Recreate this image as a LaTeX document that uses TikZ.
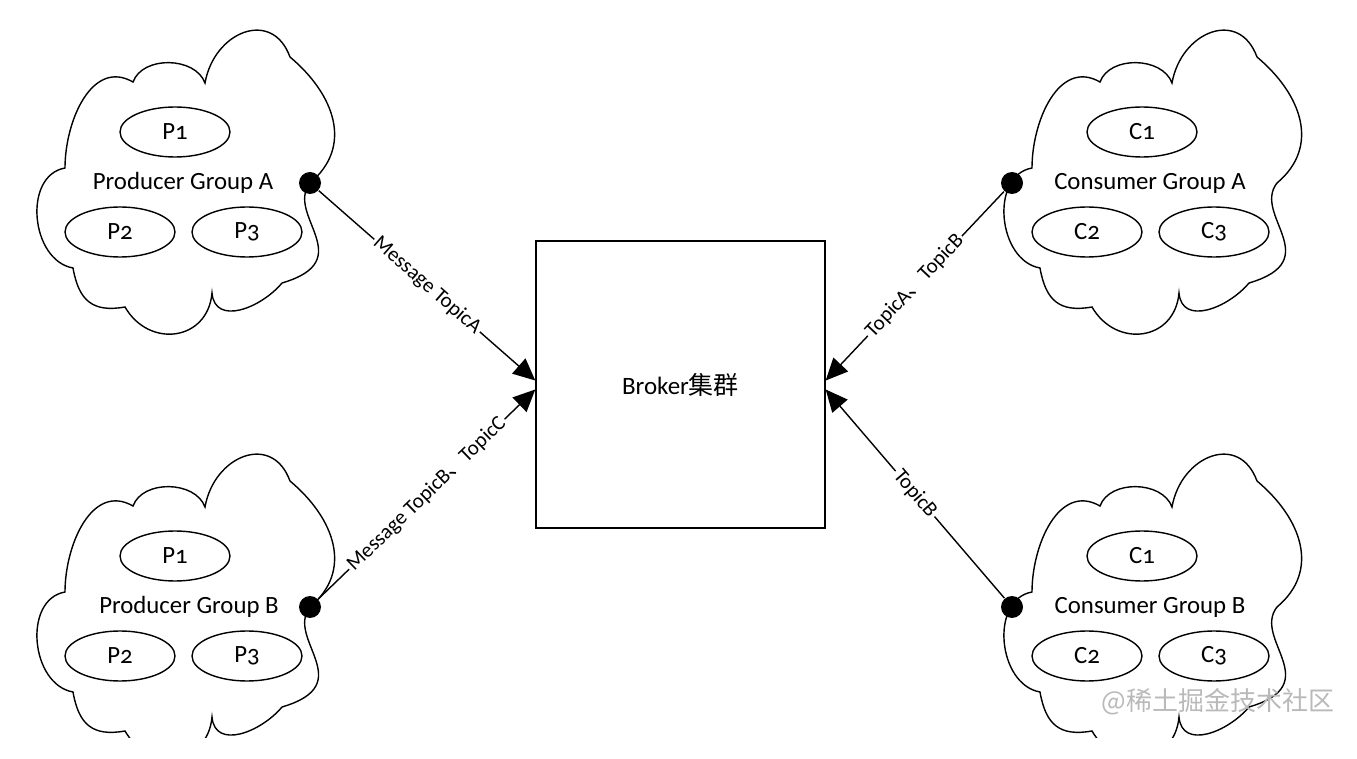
\documentclass[tikz,border=0pt]{standalone}
\usepackage{fontspec}
\setmainfont{Carlito}[Numbers=OldStyle]
\newfontfamily\cjk{Noto Sans CJK SC}
\usetikzlibrary{arrows.meta, shapes.geometric}

\begin{document}
\begin{tikzpicture}[
        x=0.5pt, y=0.5pt,
        line width=0.7pt,
        member/.style={draw, ellipse, minimum width=55pt, minimum height=25pt, inner sep=0pt, font=\fontsize{12.4}{14}\selectfont},
        group/.style={font=\fontsize{12.4}{14}\selectfont},
        broker/.style={draw, rectangle, minimum width=144.5pt, minimum height=143.5pt, font=\fontsize{12.5}{15}\selectfont},
        port/.style={circle, fill=black, minimum size=11pt, inner sep=0pt},
        topic/.style={sloped, midway, fill=white, inner sep=1pt, font=\fontsize{10.5}{12}\selectfont},
        watermark/.style={text=gray!55, font=\fontsize{13}{15}\selectfont\cjk},
        arrow/.style={-{Triangle[length=11pt, width=10pt]}},
        pics/cloud/.style={code={
            \draw (310,-183) to[out=40, in=-40, looseness=1.15] (290,-57)
                to[out=110, in=80, looseness=1.5] (205,-83)
                to[out=110, in=70] (133,-82)
                to[out=150, in=90, looseness=1.1] (65,-168)
                to[out=190, in=170, looseness=1.1] (73,-268)
                to[out=-80, in=-170, looseness=1.3] (125,-307)
                to[out=-60, in=-95, looseness=1.4] (212,-293)
                to[out=-85, in=-130, looseness=1.2] (282,-283)
                .. controls (360,-260) and (285,-215) .. (310,-183);
        }}
    ]
    \useasboundingbox (0,0) rectangle (1357,-759);

    % Clouds
    \begin{scope}
        \clip (0,0) rectangle (1357,-737);
        \pic at (0,0) {cloud};
        \pic at (0,-424) {cloud};
        \pic at (967,0) {cloud};
        \pic at (967,-424) {cloud};
    \end{scope}

    % Producer groups
    \node[group] (pga) at (183,-183) {Producer Group A};
    \node[member] (pa1) at (175,-132) {P1};
    \node[member] (pa2) at (120,-232) {P2};
    \node[member] (pa3) at (247,-232) {P3};
    \node[group] (pgb) at (189,-607) {Producer Group B};
    \node[member] (pb1) at (175,-556) {P1};
    \node[member] (pb2) at (120,-656) {P2};
    \node[member] (pb3) at (247,-656) {P3};

    % Consumer groups
    \node[group] (cga) at (1150,-183) {Consumer Group A};
    \node[member] (ca1) at (1142,-132) {C1};
    \node[member] (ca2) at (1087,-232) {C2};
    \node[member] (ca3) at (1214,-232) {C3};
    \node[group] (cgb) at (1150,-607) {Consumer Group B};
    \node[member] (cb1) at (1142,-556) {C1};
    \node[member] (cb2) at (1087,-656) {C2};
    \node[member] (cb3) at (1214,-656) {C3};

    % Broker
    \node[broker] (broker) at (680.5,-384.5) {Broker{\cjk 集群}};

    % Ports
    \node[port] (portpa) at (310,-183) {};
    \node[port] (portpb) at (310,-607) {};
    \node[port] (portca) at (1012,-183) {};
    \node[port] (portcb) at (1012,-607) {};

    % Topic flows
    \draw[arrow] (portpa) -- node[topic] {Message TopicA} ([yshift=2pt]broker.west);
    \draw[arrow] (portpb) -- node[topic] {Message TopicB{\cjk 、}TopicC} ([yshift=-2.5pt]broker.west);
    \draw[arrow] (portca) -- node[topic] {TopicA{\cjk 、}TopicB} ([yshift=2pt]broker.east);
    \draw[arrow] (portcb) -- node[topic] {TopicB} ([yshift=-2.5pt]broker.east);

    \node[watermark] (mark) at (1218,-702) {@稀土掘金技术社区};
\end{tikzpicture}
\end{document}
